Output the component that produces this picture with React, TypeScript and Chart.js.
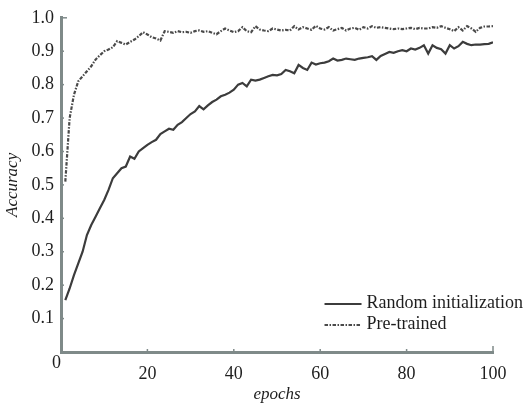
import React, { useEffect, useRef } from 'react';
import { Chart, registerables } from 'chart.js';

Chart.register(...registerables);

const epochs = [
  1, 2, 3, 4, 5, 6, 7, 8, 9, 10, 11, 12, 13, 14, 15, 16, 17, 18, 19, 20,
  21, 22, 23, 24, 25, 26, 27, 28, 29, 30, 31, 32, 33, 34, 35, 36, 37, 38, 39, 40,
  41, 42, 43, 44, 45, 46, 47, 48, 49, 50, 51, 52, 53, 54, 55, 56, 57, 58, 59, 60,
  61, 62, 63, 64, 65, 66, 67, 68, 69, 70, 71, 72, 73, 74, 75, 76, 77, 78, 79, 80,
  81, 82, 83, 84, 85, 86, 87, 88, 89, 90, 91, 92, 93, 94, 95, 96, 97, 98, 99, 100,
];

const randomInit = [
  0.155, 0.19, 0.23, 0.265, 0.3, 0.35, 0.38, 0.405, 0.43, 0.455,
  0.485, 0.52, 0.535, 0.55, 0.555, 0.585, 0.578, 0.6, 0.61, 0.62,
  0.628, 0.635, 0.652, 0.66, 0.668, 0.665, 0.68, 0.688, 0.7, 0.712,
  0.72, 0.736, 0.726, 0.738, 0.748, 0.755, 0.765, 0.77, 0.776, 0.785,
  0.8, 0.805, 0.795, 0.815, 0.812, 0.815, 0.82, 0.825, 0.829, 0.828,
  0.832, 0.844, 0.84, 0.834, 0.859, 0.85, 0.844, 0.866, 0.86, 0.864,
  0.866, 0.87, 0.878, 0.872, 0.874, 0.878, 0.876, 0.874, 0.878, 0.88,
  0.882, 0.885, 0.874, 0.886, 0.892, 0.898, 0.895, 0.9, 0.903, 0.9,
  0.908, 0.905, 0.91, 0.918, 0.893, 0.918, 0.91, 0.906, 0.893, 0.918,
  0.908, 0.915, 0.928, 0.922, 0.918, 0.92, 0.92, 0.921, 0.922, 0.927,
];

const preTrained = [
  0.51, 0.7, 0.77, 0.81, 0.825, 0.84, 0.855, 0.875, 0.888, 0.9,
  0.905, 0.912, 0.93, 0.925, 0.92, 0.928, 0.935, 0.945, 0.957, 0.95,
  0.942, 0.938, 0.932, 0.96, 0.958, 0.955, 0.96, 0.957, 0.958, 0.955,
  0.96, 0.962, 0.958, 0.96, 0.955, 0.951, 0.96, 0.968, 0.962, 0.957,
  0.96, 0.972, 0.96, 0.957, 0.975, 0.965, 0.962, 0.96, 0.968, 0.965,
  0.962, 0.964, 0.962, 0.975, 0.965, 0.972, 0.968, 0.964, 0.976, 0.968,
  0.965, 0.972, 0.962, 0.966, 0.97, 0.962, 0.968, 0.97, 0.964, 0.972,
  0.968, 0.975, 0.97, 0.972, 0.97, 0.968, 0.966, 0.968, 0.966, 0.968,
  0.97, 0.966, 0.97, 0.968, 0.968, 0.972, 0.97, 0.975, 0.97, 0.966,
  0.96, 0.972, 0.962, 0.975, 0.968, 0.958, 0.97, 0.974, 0.974, 0.975,
];

const seriesNames = ['Random initialization', 'Pre-trained'];
const xTicks = [20, 40, 60, 80, 100];
const yTicks = [0.1, 0.2, 0.3, 0.4, 0.5, 0.6, 0.7, 0.8, 0.9, 1.0];
const xTitle = 'epochs';
const yTitle = 'Accuracy';
const originLabel = '0';

const FONT = "'Liberation Serif', 'Times New Roman', serif";
const TEXT = '#1e1e1e';
const AXIS = '#7f8a89';

const extrasPlugin = {
  id: 'extras',
  afterDraw(chart: any) {
    const ctx = chart.ctx as CanvasRenderingContext2D;
    const xs = chart.scales.x;
    const ys = chart.scales.y;
    const left = xs.left;
    const bottom = ys.bottom;
    ctx.save();
    // inward ticks
    ctx.strokeStyle = AXIS;
    ctx.lineWidth = 1.5;
    yTicks.forEach((v) => {
      const py = ys.getPixelForValue(v);
      const len = v === 1.0 ? 6 : 3;
      ctx.beginPath();
      ctx.moveTo(left, py);
      ctx.lineTo(left + len, py);
      ctx.stroke();
    });
    xTicks.forEach((v) => {
      const px = xs.getPixelForValue(v);
      const len = v === 100 ? 6 : 3;
      ctx.beginPath();
      ctx.moveTo(px, bottom);
      ctx.lineTo(px, bottom - len);
      ctx.stroke();
    });
    // origin label
    ctx.fillStyle = TEXT;
    ctx.font = `18px ${FONT}`;
    ctx.textAlign = 'right';
    ctx.textBaseline = 'alphabetic';
    ctx.fillText(originLabel, left, bottom + 16);
    // legend
    const lx0 = xs.getPixelForValue(61);
    const lx1 = lx0 + 37;
    const rows = [304, 325];
    chart.data.datasets.forEach((ds: any, i: number) => {
      const yy = rows[i];
      ctx.save();
      ctx.strokeStyle = ds.borderColor;
      ctx.lineWidth = ds.borderWidth;
      ctx.setLineDash(ds.borderDash || []);
      ctx.beginPath();
      ctx.moveTo(lx0, yy);
      ctx.lineTo(lx1, yy);
      ctx.stroke();
      ctx.restore();
      ctx.fillStyle = TEXT;
      ctx.font = `18px ${FONT}`;
      ctx.textAlign = 'left';
      ctx.textBaseline = 'alphabetic';
      ctx.fillText(ds.label, lx1 + 5, yy + 3.5);
    });
    ctx.restore();
  },
};

export default function App() {
  const ref = useRef<HTMLCanvasElement | null>(null);
  useEffect(() => {
    document.body.style.margin = '0';
    const canvas = ref.current;
    if (!canvas) return;
    const chart = new Chart(canvas, {
      type: 'line',
      data: {
        datasets: [
          {
            label: seriesNames[0],
            data: epochs.map((e, i) => ({ x: e, y: randomInit[i] })),
            borderColor: '#3c3c3c',
            borderWidth: 2.2,
            pointRadius: 0,
            tension: 0,
            fill: false,
          },
          {
            label: seriesNames[1],
            data: epochs.map((e, i) => ({ x: e, y: preTrained[i] })),
            borderColor: '#4a4a4a',
            borderWidth: 2.2,
            borderDash: [3.5, 1.5, 1.5, 1.5],
            pointRadius: 0,
            tension: 0,
            fill: false,
          },
        ],
      },
      options: {
        responsive: false,
        animation: false,
        layout: { padding: { top: 12, right: 31, left: 0, bottom: 0 } },
        plugins: {
          legend: { display: false },
          tooltip: { enabled: false },
        },
        scales: {
          x: {
            type: 'linear',
            min: 0,
            max: 100,
            afterBuildTicks: (s: any) => {
              s.ticks = [0, ...xTicks].map((v) => ({ value: v }));
            },
            afterFit: (s: any) => {
              s.height = 54;
            },
            ticks: {
              callback: (v: any) => (v === 0 ? '' : String(v)),
              font: { family: FONT, size: 18 },
              color: TEXT,
              padding: 11,
              maxRotation: 0,
              autoSkip: false,
            },
            grid: { display: false, drawTicks: false },
            border: { display: true, color: AXIS, width: 3 },
            title: {
              display: true,
              text: xTitle,
              color: TEXT,
              font: { family: FONT, size: 17, style: 'italic' },
              padding: { top: 0, bottom: 1 },
            },
          },
          y: {
            type: 'linear',
            min: 0,
            max: 1,
            afterBuildTicks: (s: any) => {
              s.ticks = [0, ...yTicks].map((v) => ({ value: v }));
            },
            afterFit: (s: any) => {
              s.width = 61;
            },
            ticks: {
              callback: (v: any) => (v === 0 ? '' : Number(v).toFixed(1)),
              font: { family: FONT, size: 18 },
              color: TEXT,
              padding: 7,
              autoSkip: false,
            },
            grid: { display: false, drawTicks: false },
            border: { display: true, color: AXIS, width: 3 },
            title: {
              display: true,
              text: yTitle,
              color: TEXT,
              font: { family: FONT, size: 17, style: 'italic' },
              padding: { top: 2, bottom: 0 },
            },
          },
        },
      },
      plugins: [extrasPlugin],
    });
    return () => chart.destroy();
  }, []);
  return (
    <div style={{ position: 'absolute', left: 0, top: 0, width: 524, height: 406, background: '#fff' }}>
      <canvas ref={ref} width={524} height={406} style={{ display: 'block' }} />
    </div>
  );
}
